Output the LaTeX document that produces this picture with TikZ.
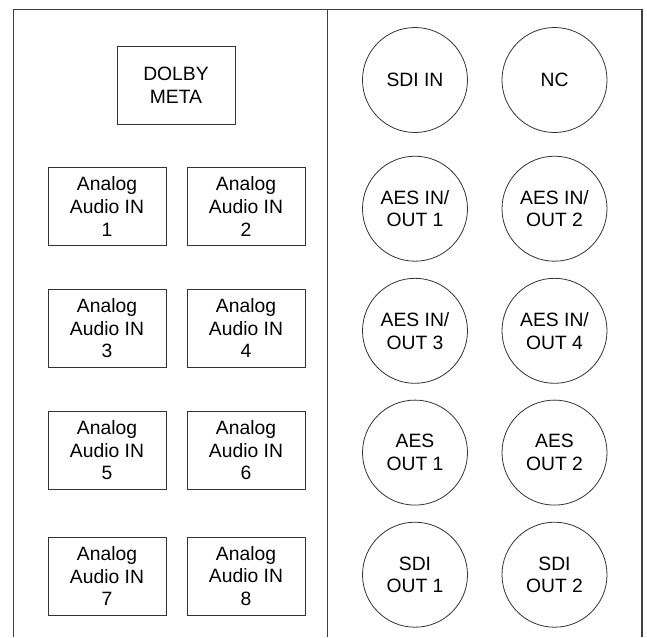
\documentclass[tikz,border=0pt]{standalone}
\usepackage{fontspec}
\setmainfont{Liberation Sans}
\begin{document}
\begin{tikzpicture}[x=1pt,y=-1pt,
  frame/.style={draw=black!75,line width=1.6pt},
  box/.style={draw=black!80,line width=0.9pt,minimum width=118pt,minimum height=78pt,inner sep=0pt,align=center,font=\fontsize{19.3}{22.6}\selectfont},
  jack/.style={draw=black!80,line width=0.8pt,circle,minimum size=105pt,inner sep=0pt,align=center,font=\fontsize{19.3}{22.6}\selectfont}]
\useasboundingbox (0,0) rectangle (647,637);
\draw[frame] (13.5,637) -- (13.5,9.5) -- (641.7,9.5) -- (641.7,637);
\draw[frame] (327.6,9.5) -- (327.6,637);
\node[box] (dolby) at (176,85) {DOLBY\\META};
\node[box] (a1) at (107,206.5) {Analog\\Audio IN\\1};
\node[box] (a2) at (246,206.5) {Analog\\Audio IN\\2};
\node[box] (a3) at (107,328.3) {Analog\\Audio IN\\3};
\node[box] (a4) at (246,328.3) {Analog\\Audio IN\\4};
\node[box] (a5) at (107,450.3) {Analog\\Audio IN\\5};
\node[box] (a6) at (246,450.3) {Analog\\Audio IN\\6};
\node[box] (a7) at (107,576) {Analog\\Audio IN\\7};
\node[box] (a8) at (246,576) {Analog\\Audio IN\\8};
\node[jack] (sdiin) at (415,80) {SDI IN};
\node[jack] (nc) at (554.5,80) {NC};
\node[jack] (aes1) at (415,208.7) {AES IN/\\OUT 1};
\node[jack] (aes2) at (554.5,208.7) {AES IN/\\OUT 2};
\node[jack] (aes3) at (415,330.8) {AES IN/\\OUT 3};
\node[jack] (aes4) at (554.5,330.8) {AES IN/\\OUT 4};
\node[jack] (aeso1) at (415,452.6) {AES\\OUT 1};
\node[jack] (aeso2) at (554.5,452.6) {AES\\OUT 2};
\node[jack] (sdio1) at (415,574.7) {SDI\\OUT 1};
\node[jack] (sdio2) at (554.5,574.7) {SDI\\OUT 2};
\end{tikzpicture}
\end{document}
